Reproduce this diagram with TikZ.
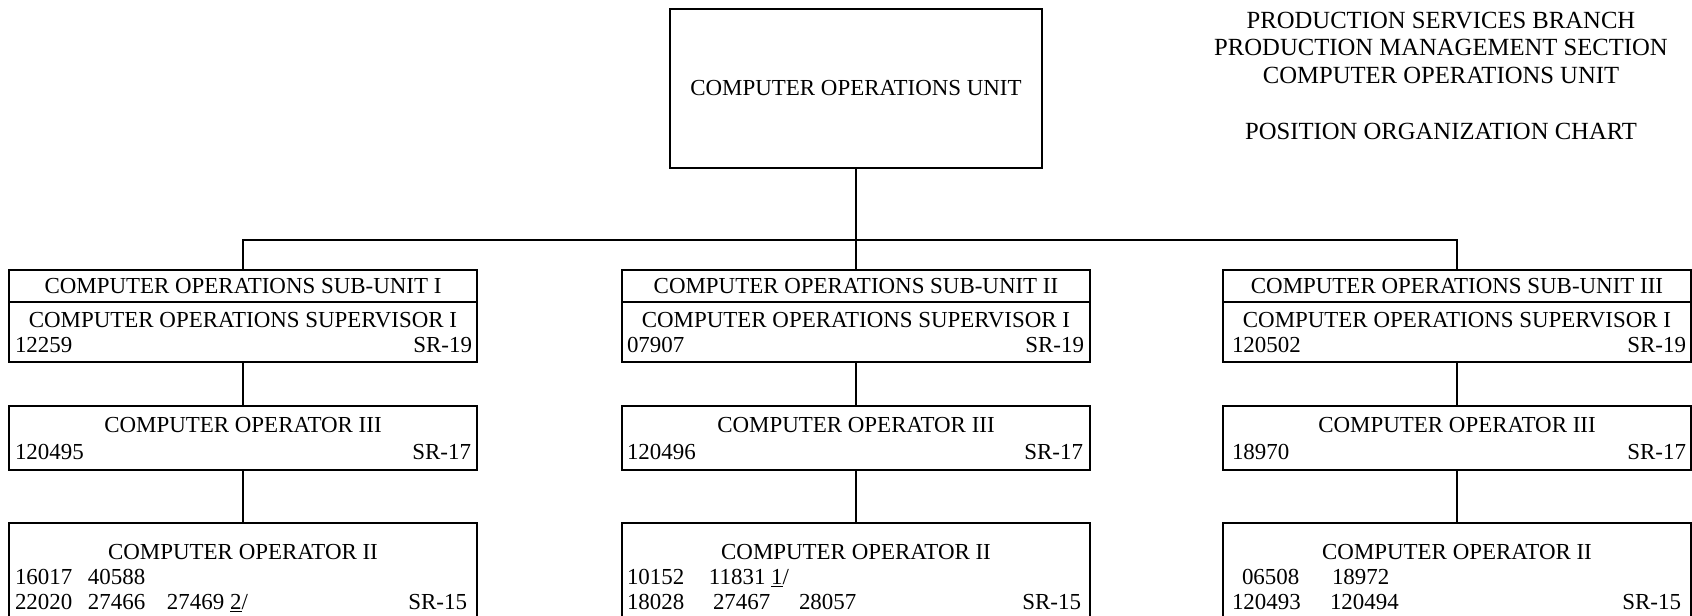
\documentclass[tikz,border=0pt]{standalone}
\usepackage{fontspec}
\setmainfont{Liberation Serif}
\newcommand{\boxfont}{\fontsize{17.2}{20}\selectfont}
\newcommand{\headfont}{\fontsize{18.5}{20.6}\selectfont}
\newcommand{\numcol}[2]{\makebox[#1][l]{#2}}
\tikzstyle{headBox}=[draw, minimum width = 351pt, minimum height = 24pt, inner sep = 0pt, font = \boxfont]
\tikzstyle{plainBox}=[draw, minimum width = 351pt, inner sep = 0pt]

\begin{document}
\begin{tikzpicture}[x = 0.75pt, y = -0.75pt, line width = 1.2pt]
\tikzstyle{textLeft}=[anchor = base west, inner sep = 0pt, font = \boxfont]
\tikzstyle{textRight}=[anchor = base east, inner sep = 0pt, font = \boxfont]
\tikzstyle{textMid}=[anchor = base, inner sep = 0pt, font = \boxfont]
\clip (0,0) rectangle (1692,616);
% heading (base = last line)
\node[anchor = base, align = center, inner sep = 0pt, font = \headfont] (heading) at (1441,140) {PRODUCTION SERVICES BRANCH\\ PRODUCTION MANAGEMENT SECTION\\ COMPUTER OPERATIONS UNIT\\[22.1pt] POSITION ORGANIZATION CHART};
% unit
\node[draw, minimum width = 279pt, minimum height = 119.25pt, font = \boxfont] (unit) at (856,88.5) {COMPUTER OPERATIONS UNIT};
\coordinate (bus) at (856,240);
% sub-unit I
\node[headBox] (subA) at (243,286) {COMPUTER OPERATIONS SUB-UNIT I};
\node[plainBox, minimum height = 45pt] (supA) at (243,332) {};
\node[textMid] (supAname) at ([shift={(0,26.5)}]supA.north) {COMPUTER OPERATIONS SUPERVISOR I};
\node[textLeft] (supAnum) at ([shift={(6,51.5)}]supA.north west) {12259};
\node[textRight] (supAsr) at ([shift={(-5,51.5)}]supA.north east) {SR-19};
\node[plainBox, minimum height = 48pt] (opthreeA) at (243,438) {};
\node[textMid] (opthreeAname) at ([shift={(0,27.5)}]opthreeA.north) {COMPUTER OPERATOR III};
\node[textLeft] (opthreeAnum) at ([shift={(6,54.5)}]opthreeA.north west) {120495};
\node[textRight] (opthreeAsr) at ([shift={(-6,54.5)}]opthreeA.north east) {SR-17};
\node[plainBox, minimum height = 97.5pt] (optwoA) at (243,588) {};
\node[textMid] (optwoAname) at ([shift={(0,37.5)}]optwoA.north) {COMPUTER OPERATOR II};
\node[textLeft] (optwoArowa) at ([shift={(6,62.5)}]optwoA.north west) {\numcol{54.75pt}{16017}40588};
\node[textLeft] (optwoArowb) at ([shift={(6,87.5)}]optwoA.north west) {\numcol{54.75pt}{22020}\numcol{59.25pt}{27466}27469 \underline{2}/};
\node[textRight] (optwoAsr) at ([shift={(-10,87.5)}]optwoA.north east) {SR-15};
% sub-unit II
\node[headBox] (subB) at (856,286) {COMPUTER OPERATIONS SUB-UNIT II};
\node[plainBox, minimum height = 45pt] (supB) at (856,332) {};
\node[textMid] (supBname) at ([shift={(0,26.5)}]supB.north) {COMPUTER OPERATIONS SUPERVISOR I};
\node[textLeft] (supBnum) at ([shift={(5,51.5)}]supB.north west) {07907};
\node[textRight] (supBsr) at ([shift={(-6,51.5)}]supB.north east) {SR-19};
\node[plainBox, minimum height = 48pt] (opthreeB) at (856,438) {};
\node[textMid] (opthreeBname) at ([shift={(0,27.5)}]opthreeB.north) {COMPUTER OPERATOR III};
\node[textLeft] (opthreeBnum) at ([shift={(5,54.5)}]opthreeB.north west) {120496};
\node[textRight] (opthreeBsr) at ([shift={(-7,54.5)}]opthreeB.north east) {SR-17};
\node[plainBox, minimum height = 97.5pt] (optwoB) at (856,588) {};
\node[textMid] (optwoBname) at ([shift={(0,37.5)}]optwoB.north) {COMPUTER OPERATOR II};
\node[textLeft] (optwoBrowa) at ([shift={(5,62.5)}]optwoB.north west) {\numcol{61.5pt}{10152}11831 \underline{1}/};
\node[textLeft] (optwoBrowb) at ([shift={(5,87.5)}]optwoB.north west) {\numcol{64.5pt}{18028}\numcol{64.5pt}{27467}28057};
\node[textRight] (optwoBsr) at ([shift={(-9,87.5)}]optwoB.north east) {SR-15};
% sub-unit III
\node[headBox] (subC) at (1457,286) {COMPUTER OPERATIONS SUB-UNIT III};
\node[plainBox, minimum height = 45pt] (supC) at (1457,332) {};
\node[textMid] (supCname) at ([shift={(0,26.5)}]supC.north) {COMPUTER OPERATIONS SUPERVISOR I};
\node[textLeft] (supCnum) at ([shift={(9,51.5)}]supC.north west) {120502};
\node[textRight] (supCsr) at ([shift={(-5,51.5)}]supC.north east) {SR-19};
\node[plainBox, minimum height = 48pt] (opthreeC) at (1457,438) {};
\node[textMid] (opthreeCname) at ([shift={(0,27.5)}]opthreeC.north) {COMPUTER OPERATOR III};
\node[textLeft] (opthreeCnum) at ([shift={(9,54.5)}]opthreeC.north west) {18970};
\node[textRight] (opthreeCsr) at ([shift={(-5,54.5)}]opthreeC.north east) {SR-17};
\node[plainBox, minimum height = 97.5pt] (optwoC) at (1457,588) {};
\node[textMid] (optwoCname) at ([shift={(0,37.5)}]optwoC.north) {COMPUTER OPERATOR II};
\node[textLeft] (optwoCrowa) at ([shift={(9,62.5)}]optwoC.north west) {\numcol{75pt}{\hspace{7.5pt}06508}18972};
\node[textLeft] (optwoCrowb) at ([shift={(9,87.5)}]optwoC.north west) {\numcol{73.5pt}{120493}120494};
\node[textRight] (optwoCsr) at ([shift={(-10,87.5)}]optwoC.north east) {SR-15};
% lines
\draw (unit.south) -- (bus);
\draw (subA.north) |- (bus) -| (subC.north);
\draw (bus) -- (subB.north);
\draw (supA.south) -- (opthreeA.north);
\draw (opthreeA.south) -- (optwoA.north);
\draw (supB.south) -- (opthreeB.north);
\draw[line width = 1.8pt] (opthreeB.south) -- (optwoB.north);
\draw (supC.south) -- (opthreeC.north);
\draw (opthreeC.south) -- (optwoC.north);
\end{tikzpicture}
\end{document}
